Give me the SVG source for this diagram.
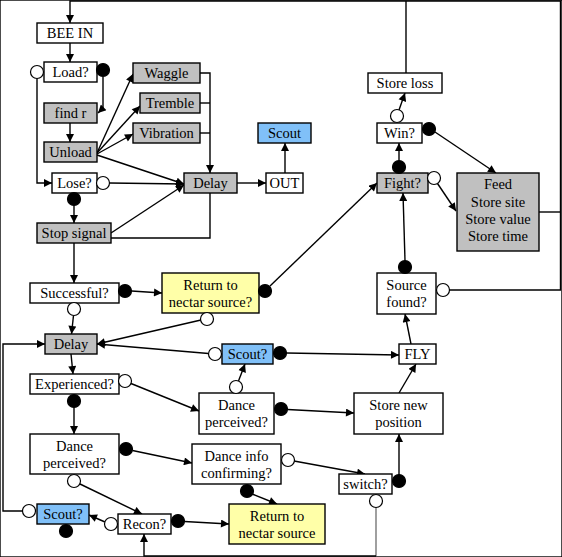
<svg xmlns="http://www.w3.org/2000/svg" width="562" height="557" viewBox="0 0 562 557" font-family="'Liberation Serif', 'Times New Roman', 'DejaVu Serif', serif">
<defs>
<marker id="ah" viewBox="0 0 10 10" refX="10" refY="5" markerWidth="9" markerHeight="8" markerUnits="userSpaceOnUse" orient="auto">
<path d="M0,0 L10,5 L0,10 z" fill="#000"/>
</marker>
<style>
rect{stroke:#000;stroke-width:1.4}
.w{fill:#fff}
.g{fill:#c0c0c0}
.bl{fill:#80c0f8}
.y{fill:#ffffa8}
.o{fill:#fff;stroke:#000;stroke-width:1.2}
.f{fill:#000;stroke:#000;stroke-width:1.2}
text{font-family:'Liberation Serif', 'Times New Roman', 'DejaVu Serif', serif;font-size:14.5px;text-anchor:middle;fill:#000}
#connectors path{fill:none;stroke:#000;stroke-width:1.4}
#connectors .a{marker-end:url(#ah)}
</style>
</defs>
<rect width="562" height="557" fill="#fff" stroke="none"/>
<g id="connectors">
<path class="a" d="M449,290 H560.5 V1 H70 V23"/>
<path d="M406,73 V1"/>
<path d="M539,212 H560.5"/>
<path class="a" d="M70,43 V62"/>
<path class="a" d="M103,77 V108 L98,113"/>
<path class="a" d="M70,123 V142"/>
<path class="a" d="M97,153 L133,74"/>
<path class="a" d="M97,153 L140,106"/>
<path class="a" d="M97,154 L133,134"/>
<path class="a" d="M97,155 L184,184"/>
<path class="a" d="M200,73 H210 V173"/>
<path d="M200,103 H210"/>
<path d="M200,133 H210"/>
<path class="a" d="M37,78.5 V183 H52"/>
<path class="a" d="M109.5,183 L184,184"/>
<path class="a" d="M74,205.5 V223"/>
<path class="a" d="M111,233 L184,185"/>
<path d="M111,238 H210 V193"/>
<path class="a" d="M237,183 H266"/>
<path class="a" d="M285,173 V143"/>
<path class="a" d="M74,243 V283"/>
<path class="a" d="M131.5,291 L162,293"/>
<path class="a" d="M270,286 L377,183"/>
<path class="a" d="M73.5,315.5 L71.5,334"/>
<path class="a" d="M201,320 L97,344"/>
<path class="a" d="M208.5,353.5 L97,344"/>
<path class="a" d="M286.5,353 L399,355"/>
<path class="a" d="M22.5,511 H3 V344 H45"/>
<path class="a" d="M71,354 L73,374"/>
<path class="a" d="M131,383.5 L199,411"/>
<path class="a" d="M238.5,381 L245,364"/>
<path class="a" d="M287.5,409.5 L354,413"/>
<path class="a" d="M399,393 L416,364"/>
<path class="a" d="M411,344 L405,314"/>
<path class="a" d="M405,260.5 L403,193"/>
<path class="a" d="M399,160.5 V143"/>
<path class="a" d="M399,110 L405,93"/>
<path class="a" d="M435,132 L496,173"/>
<path class="a" d="M437.5,183.5 L456,211"/>
<path class="a" d="M74,407.5 V434"/>
<path class="a" d="M132.5,450.5 L192,463"/>
<path class="a" d="M294,461 L365,474"/>
<path class="a" d="M399,475 V434"/>
<path d="M376,507.5 V556" style="stroke:#777"/>
<path class="a" d="M376,556 H144 V534"/>
<path class="a" d="M252,494 L277,504"/>
<path class="a" d="M184.5,521.5 L229,524"/>
<path class="a" d="M105,522 L89,515"/>
<path class="a" d="M80,484 L142,514"/>
</g>
<g id="bee-in"><rect class="w" x="37" y="23" width="66" height="20"/><text x="70" y="38">BEE IN</text></g>
<g id="load"><rect class="w" x="44" y="62" width="53" height="20"/><text x="70.5" y="77">Load?</text><circle class="o" cx="37" cy="72" r="6.5"/><circle class="f" cx="103" cy="70" r="6.5"/></g>
<g id="find-r"><rect class="g" x="44" y="103" width="53" height="20"/><text x="70.5" y="118">find r</text></g>
<g id="unload"><rect class="g" x="44" y="142" width="53" height="20"/><text x="70.5" y="157">Unload</text></g>
<g id="waggle"><rect class="g" x="133" y="63" width="67" height="20"/><text x="166.5" y="78">Waggle</text></g>
<g id="tremble"><rect class="g" x="140" y="93" width="60" height="20"/><text x="170" y="108">Tremble</text></g>
<g id="vibration"><rect class="g" x="133" y="123" width="67" height="20"/><text x="166.5" y="138">Vibration</text></g>
<g id="lose"><rect class="w" x="52" y="173" width="45" height="20"/><text x="74.5" y="188">Lose?</text><circle class="o" cx="103" cy="183" r="6.5"/><circle class="f" cx="74" cy="199" r="6.5"/></g>
<g id="delay1"><rect class="g" x="184" y="173" width="53" height="20"/><text x="210.5" y="188">Delay</text></g>
<g id="out"><rect class="w" x="266" y="173" width="37" height="20"/><text x="284.5" y="188">OUT</text></g>
<g id="scout"><rect class="bl" x="258" y="123" width="53" height="20"/><text x="284.5" y="138">Scout</text></g>
<g id="stop-signal"><rect class="g" x="37" y="223" width="74" height="20"/><text x="74" y="238">Stop signal</text></g>
<g id="successful"><rect class="w" x="30" y="283" width="89" height="20"/><text x="74.5" y="298">Successful?</text><circle class="f" cx="125" cy="291" r="6.5"/><circle class="o" cx="74" cy="309" r="6.5"/></g>
<g id="return-q"><rect class="y" x="162" y="273" width="97" height="40"/><text x="210.5" y="290">Return to</text><text x="210.5" y="307">nectar source?</text><circle class="f" cx="265" cy="291" r="6.5"/><circle class="o" cx="207" cy="319" r="6.5"/></g>
<g id="delay2"><rect class="g" x="45" y="334" width="52" height="20"/><text x="71" y="349">Delay</text></g>
<g id="scout-q1"><rect class="bl" x="222" y="344" width="51" height="20"/><text x="247.5" y="359">Scout?</text><circle class="o" cx="215" cy="354" r="6.5"/><circle class="f" cx="280" cy="353" r="6.5"/></g>
<g id="fly"><rect class="w" x="399" y="344" width="37" height="20"/><text x="417.5" y="359">FLY</text></g>
<g id="experienced"><rect class="w" x="30" y="374" width="89" height="20"/><text x="74.5" y="389">Experienced?</text><circle class="o" cx="125" cy="381" r="6.5"/><circle class="f" cx="74" cy="401" r="6.5"/></g>
<g id="dance-r"><rect class="w" x="199" y="393" width="75" height="41"/><text x="236.5" y="410">Dance</text><text x="236.5" y="427">perceived?</text><circle class="o" cx="236" cy="387" r="6.5"/><circle class="f" cx="281" cy="409" r="6.5"/></g>
<g id="store-new"><rect class="w" x="354" y="393" width="89" height="41"/><text x="398.5" y="410">Store new</text><text x="398.5" y="427">position</text></g>
<g id="dance-l"><rect class="w" x="30" y="434" width="89" height="40"/><text x="74.5" y="451">Dance</text><text x="74.5" y="468">perceived?</text><circle class="f" cx="126" cy="449" r="6.5"/><circle class="o" cx="74" cy="481" r="6.5"/></g>
<g id="dance-info"><rect class="w" x="192" y="444" width="89" height="40"/><text x="236.5" y="461">Dance info</text><text x="236.5" y="478">confirming?</text><circle class="o" cx="288" cy="460" r="6.5"/><circle class="f" cx="247" cy="491" r="6.5"/></g>
<g id="switch"><rect class="w" x="339" y="474" width="53" height="20"/><text x="365.5" y="489">switch?</text><circle class="f" cx="399" cy="481" r="6.5"/><circle class="o" cx="376" cy="501" r="6.5"/></g>
<g id="scout-q2"><rect class="bl" x="37" y="504" width="52" height="20"/><text x="63" y="519">Scout?</text><circle class="o" cx="29" cy="511" r="6.5"/><circle class="f" cx="66" cy="531" r="6.5"/></g>
<g id="recon"><rect class="w" x="118" y="514" width="53" height="20"/><text x="144.5" y="529">Recon?</text><circle class="f" cx="178" cy="521" r="6.5"/><circle class="o" cx="111" cy="524" r="6.5"/></g>
<g id="return-src"><rect class="y" x="229" y="504" width="96" height="40"/><text x="277" y="521">Return to</text><text x="277" y="538">nectar source</text></g>
<g id="store-loss"><rect class="w" x="368" y="73" width="74" height="20"/><text x="405" y="88">Store loss</text></g>
<g id="win"><rect class="w" x="377" y="123" width="45" height="20"/><text x="399.5" y="138">Win?</text><circle class="o" cx="397" cy="116" r="6.5"/><circle class="f" cx="429" cy="129" r="6.5"/></g>
<g id="fight"><rect class="g" x="377" y="173" width="51" height="20"/><text x="402.5" y="188">Fight?</text><circle class="f" cx="399" cy="167" r="6.5"/><circle class="o" cx="434" cy="178" r="6.5"/></g>
<g id="source-found"><rect class="w" x="377" y="273" width="59" height="41"/><text x="406.5" y="290">Source</text><text x="406.5" y="307">found?</text><circle class="f" cx="405" cy="267" r="6.5"/><circle class="o" cx="443" cy="290" r="6.5"/></g>
<g id="feed"><rect class="g" x="457" y="173" width="82" height="78"/><text x="498" y="189">Feed</text><text x="498" y="207">Store site</text><text x="498" y="224">Store value</text><text x="498" y="241">Store time</text></g>
</svg>
